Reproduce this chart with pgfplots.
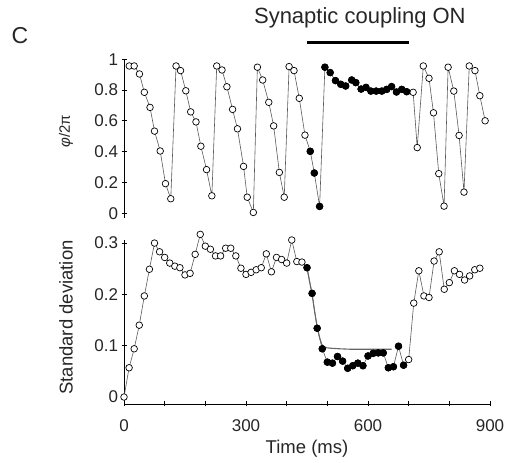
\documentclass[border=0pt]{standalone}
\usepackage{pgfplots}
\pgfplotsset{compat=1.18}
\usepackage{fontspec}
\setmainfont{Liberation Sans}
\begin{document}
\begin{tikzpicture}[x=1pt,y=1pt]
\path[use as bounding box] (0,0) rectangle (510,462);
\pgfplotsset{
 common/.style={
  scale only axis, width=366pt, xmin=0, xmax=900,
  tick style={black, line width=0.9pt},
  tick align=outside, major tick length=5pt, minor tick length=5pt,
  tick label style={font=\fontsize{17}{20}\selectfont, text=black!85},
  xticklabel style={yshift=-10pt},
  /pgf/number format/assume math mode=true,
  /pgf/number format/fixed,
  clip=false,
 },
 noarrows/.style={
  axis line style={-, line width=0.9pt, black},
  x axis line style={-}, y axis line style={-},
  every outer x axis line/.append style={-},
  every outer y axis line/.append style={-},
 },
 openser/.style={color=black!65, line width=0.6pt, mark=*, mark size=3.3pt, mark options={fill=white, draw=black, line width=0.7pt}},
 filledser/.style={only marks, mark=*, mark size=3.3pt, mark options={fill=black, draw=black, line width=0.7pt}},
}
% ---------- top panel ----------
\begin{axis}[common, at={(124pt,244pt)}, anchor=south west, height=158.8pt,
  ymin=-0.031, ymax=1, axis x line=none, axis y line=left, noarrows,
  ytick={0,0.2,0.4,0.6,0.8,1}]
\addplot[openser] coordinates {
(13,0.956)(25,0.956)(38,0.904)(50,0.785)(64,0.687)(75,0.533)(89,0.404)(102,0.192)(115,0.094)
(128,0.956)(139,0.926)(152,0.795)(164,0.658)(177,0.593)(189,0.435)(203,0.283)(216,0.113)
(228,0.956)(241,0.930)(253,0.821)(267,0.674)(279,0.548)(294,0.304)(303,0.104)(318,0.005)
(328,0.948)(341,0.865)(356,0.720)(368,0.567)(382,0.265)(394,0.104)
(406,0.952)(418,0.926)(431,0.746)(445,0.507)
(458,0.402)(468,0.261)(481,0.044)
(494,0.948)(507,0.913)(520,0.861)(533,0.837)(545,0.826)(560,0.865)(570,0.848)(583,0.806)
(595,0.817)(607,0.793)(620,0.793)(634,0.793)(646,0.804)(658,0.822)(670,0.787)(683,0.804)(695,0.789)
(711,0.785)(721,0.426)(736,0.956)(750,0.876)(761,0.652)(774,0.257)(787,0.046)
(797,0.948)(811,0.793)(824,0.505)(836,0.137)(849,0.956)(863,0.926)(875,0.763)(888,0.600)
};
\addplot[filledser] coordinates {
(458,0.402)(468,0.261)(481,0.044)
(494,0.948)(507,0.913)(520,0.861)(533,0.837)(545,0.826)(560,0.865)(570,0.848)(583,0.806)
(595,0.817)(607,0.793)(620,0.793)(634,0.793)(646,0.804)(658,0.822)(670,0.787)(683,0.804)(695,0.789)
};
\addplot[black, line width=3pt, no marks] coordinates {(450,1.108)(700,1.108)};
\node[anchor=base, font=\fontsize{22}{26}\selectfont, text=black!85] at (axis cs:580,1.229) {Synaptic coupling ON};
\end{axis}
% ---------- bottom panel ----------
\begin{axis}[common, at={(124pt,58pt)}, anchor=south west, height=164pt,
  ymin=-0.0136, ymax=0.306, axis x line=bottom, axis y line=left, noarrows,
  xtick={0,300,600,900}, minor xtick={100,200,400,500,700,800},
  ytick={0,0.1,0.2,0.3}]
\addplot[openser] coordinates {
(0,0.0)(12.5,0.057)(25,0.094)(37.5,0.140)(50,0.197)(62.5,0.249)(75,0.300)(87.5,0.283)
(100,0.272)(112.5,0.261)(125,0.255)(137.5,0.252)(150,0.238)(162.5,0.241)(175,0.278)(187.5,0.317)
(200,0.294)(212.5,0.288)(225,0.275)(237.5,0.275)(250,0.290)(262.5,0.290)(275,0.275)(287.5,0.251)
(300,0.239)(312.5,0.243)(325,0.248)(337.5,0.252)(350,0.279)(362.5,0.244)(375,0.272)(387.5,0.268)
(400,0.261)(412.5,0.306)(425,0.264)(437.5,0.263)
(450,0.252)(462.5,0.202)(475,0.134)(487.5,0.094)(500,0.068)(512.5,0.066)(525,0.079)(537.5,0.070)
(550,0.056)(562.5,0.061)(575,0.066)(587.5,0.061)(600,0.080)(612.5,0.085)(625,0.086)(637.5,0.086)
(650,0.057)(662.5,0.059)(675,0.099)(687.5,0.062)
(700,0.073)(712.5,0.183)(725,0.246)(737.5,0.197)(750,0.194)(762.5,0.265)(775,0.283)(787.5,0.210)
(800,0.223)(812.5,0.246)(825,0.239)(837.5,0.228)(850,0.236)(862.5,0.248)(875,0.251)
};
\addplot[black!60, line width=1.1pt, no marks] coordinates {
(450,0.252)(456,0.226)(462.5,0.200)(469,0.165)(475,0.137)(481,0.116)(486,0.103)(492,0.098)(498,0.096)(510,0.095)(530,0.094)(560,0.093)(658,0.093)
};
\addplot[filledser] coordinates {
(450,0.252)(462.5,0.202)(475,0.134)(487.5,0.094)(500,0.068)(512.5,0.066)(525,0.079)(537.5,0.070)
(550,0.056)(562.5,0.061)(575,0.066)(587.5,0.061)(600,0.080)(612.5,0.085)(625,0.086)(637.5,0.086)
(650,0.057)(662.5,0.059)(675,0.099)(687.5,0.062)
};
\end{axis}
% ---------- labels ----------
\node[anchor=base west, font=\fontsize{23}{27}\selectfont, text=black!85] at (8,418) {C};
\node[rotate=90, font=\fontsize{15}{18}\selectfont, text=black!85] at (66,331) {{\itshape φ}/2π};
\node[rotate=90, font=\fontsize{18.5}{22}\selectfont, text=black!85] at (66,144.5) {Standard deviation};
\node[anchor=base, font=\fontsize{18.5}{22}\selectfont, text=black!85] at (307,8.7) {Time (ms)};
\end{tikzpicture}
\end{document}
